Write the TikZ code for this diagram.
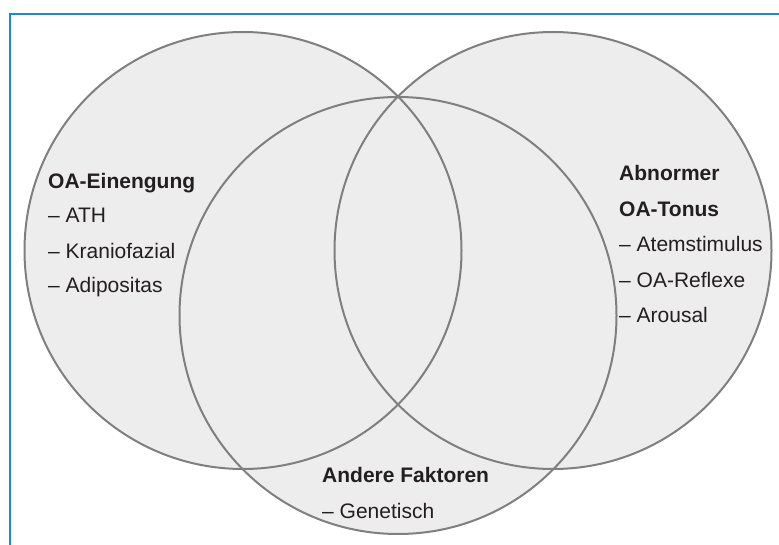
\documentclass[tikz,border=0pt]{standalone}
\usepackage{fontspec}
\setmainfont{Liberation Sans}
\usetikzlibrary{positioning}
\definecolor{frameblue}{HTML}{1A8AD4}
\definecolor{venngray}{HTML}{EDEDED}
\definecolor{rimgray}{HTML}{7F7F7F}
\definecolor{inkblack}{HTML}{231F20}

\begin{document}
\begin{tikzpicture}[x=1pt,y=-1pt,
    item text/.style={anchor=base west, inner sep=0pt, text=inkblack,
      font=\fontsize{21}{24}\selectfont},
    head text/.style={item text, font=\fontsize{21}{24}\selectfont\bfseries}]
  \useasboundingbox (0,0) rectangle (779,545);
  % Frame
  \draw[frameblue, line width=2pt] (9.5,545) -- (9.5,14.5) -- (779,14.5);
  % Circles (fill first, outlines on top)
  \foreach \cx/\cy in {243/250.5, 553/250.5, 398/315.5} {
      \fill[venngray] (\cx,\cy) circle[radius=218.5];
    }
  \foreach \cx/\cy in {243/250.5, 553/250.5, 398/315.5} {
      \draw[rimgray, line width=2pt] (\cx,\cy) circle[radius=218.5];
    }
  % OA-Einengung
  \node[head text] (einengung) at (48,189) {OA-Einengung};
  \node[item text] (ath) at (48,223) {– ATH};
  \node[item text] (kranio) at (48,259) {– Kraniofazial};
  \node[item text] (adipos) at (48,293) {– Adipositas};
  % Abnormer OA-Tonus
  \node[head text] (abnormer) at (619,181) {Abnormer};
  \node[head text] (tonus) at (619,217) {OA-Tonus};
  \node[item text] (atem) at (619,252) {– Atemstimulus};
  \node[item text] (reflexe) at (619,288) {– OA-Reflexe};
  \node[item text] (arousal) at (619,323) {– Arousal};
  % Andere Faktoren
  \node[head text] (andere) at (322,482) {Andere Faktoren};
  \node[item text] (genet) at (322,518) {– Genetisch};
\end{tikzpicture}
\end{document}
